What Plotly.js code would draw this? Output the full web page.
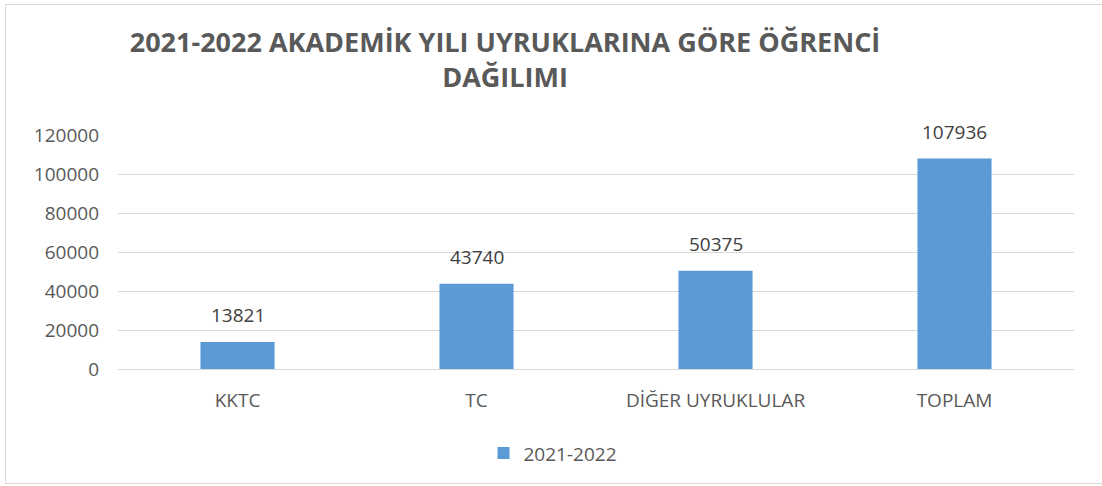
<!DOCTYPE html>
<html>
<head>
<meta charset="utf-8">
<script src="https://cdn.plot.ly/plotly-3.0.1.min.js"></script>
<style>
html,body{margin:0;padding:0;background:#fff;}
#chart{position:absolute;left:0;top:0;width:1102px;height:486px;}
#frame{position:absolute;left:5px;top:4px;width:1110px;height:478px;border:1px solid #d9d9d9;pointer-events:none;}
</style>
</head>
<body>
<div id="chart"></div>
<div id="frame"></div>
<script>
const categories = ["KKTC", "TC", "DİĞER UYRUKLULAR", "TOPLAM"];
const values = [13821, 43740, 50375, 107936];
const seriesName = "2021-2022";
const yTicks = [0, 20000, 40000, 60000, 80000, 100000, 120000];
const titleText = "2021-2022 AKADEMİK YILI UYRUKLARINA GÖRE ÖĞRENCİ<br>DAĞILIMI";

const textColor = "#595959";
const fontFamily = "Open Sans, sans-serif";

const trace = {
  type: "bar",
  x: categories,
  y: values,
  name: seriesName,
  marker: {color: "#5b9bd5"},
  showlegend: true,
  hoverinfo: "x+y"
};

const annotations = categories.map((c, i) => ({
  x: c, y: values[i], xref: "x", yref: "y",
  text: String(values[i]),
  showarrow: false, yanchor: "bottom", yshift: 12,
  font: {family: fontFamily, size: 19, color: "#404040"}
}));

const layout = {
  width: 1102, height: 486,
  margin: {l: 118, r: 28, t: 135, b: 117},
  paper_bgcolor: "#fff", plot_bgcolor: "#fff",
  title: {
    text: titleText,
    font: {family: fontFamily, size: 27, color: textColor, weight: 700},
    x: 505/1102, xanchor: "center", xref: "container",
    y: 1 - 52/486, yanchor: "top", yref: "container"
  },
  bargap: 0.69,
  xaxis: {
    type: "category",
    tickfont: {family: fontFamily, size: 19, color: textColor},
    showline: false, ticks: "", showgrid: false,
    ticklabelstandoff: 18
  },
  yaxis: {
    range: [0, 120000],
    tickvals: yTicks,
    ticktext: yTicks.map(String),
    tickfont: {family: fontFamily, size: 19, color: textColor},
    showgrid: true, gridcolor: "#d9d9d9", gridwidth: 1,
    zeroline: true, zerolinecolor: "#d9d9d9", zerolinewidth: 1,
    showline: false, ticks: "",
    ticklabelstandoff: 18
  },
  legend: {
    orientation: "h",
    x: (553 - 118) / 956, xanchor: "center",
    y: -0.36, yanchor: "middle",
    font: {family: fontFamily, size: 19, color: textColor},
    itemwidth: 30
  },
  annotations: annotations
};

Plotly.newPlot("chart", [trace], layout, {displayModeBar: false, staticPlot: true});
</script>
</body>
</html>
